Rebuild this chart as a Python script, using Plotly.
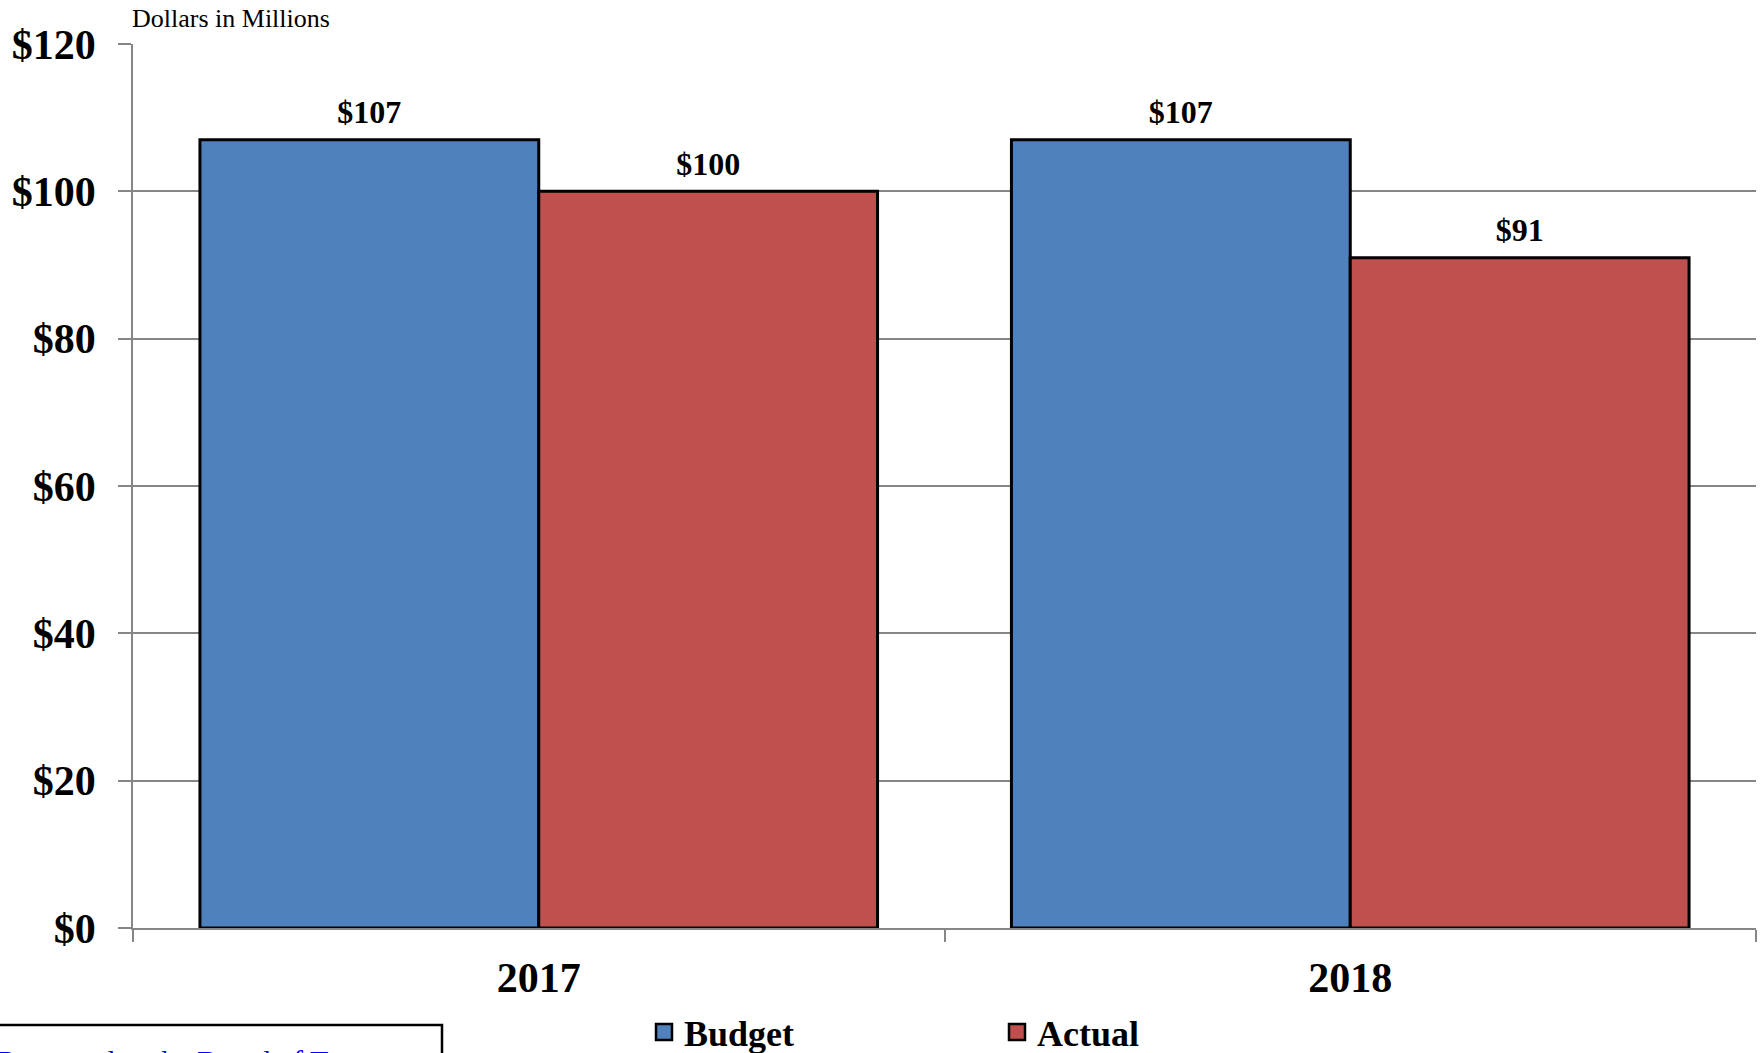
import plotly.graph_objects as go

years = ["2017", "2018"]
budget = [107, 107]
actual = [100, 91]
y_ticks = [0, 20, 40, 60, 80, 100, 120]
y_tick_labels = ["$0", "$20", "$40", "$60", "$80", "$100", "$120"]

FONT = "Liberation Serif"
BLUE, RED = "#4F81BD", "#C0504D"
GRID = "#868686"
W, H = 1764, 1053
ML, MR, MT, MB = 133, 8, 44, 125
PW = W - ML - MR
PH = H - MT - MB
GAP = 0.165

fig = go.Figure()
series = [("Budget", budget, BLUE), ("Actual", actual, RED)]
for name, vals, col in series:
    fig.add_trace(go.Bar(
        name=name, x=years, y=vals, offsetgroup=name, showlegend=False,
        marker=dict(color=col, line=dict(color="black", width=3)),
        hoverinfo="skip",
    ))
# value labels, grouped like the bars
for name, vals, col in series:
    fig.add_trace(go.Scatter(
        x=years, y=vals, offsetgroup=name, mode="markers+text", showlegend=False,
        text=[f"${v}" for v in vals], textposition="top center",
        textfont=dict(family=FONT, size=32, color="black", weight="bold"),
        marker=dict(size=12, opacity=0, color=col), cliponaxis=False,
        hoverinfo="skip",
    ))
# legend entries with square keys
for name, vals, col in series:
    fig.add_trace(go.Scatter(
        name=name, x=[None], y=[None], offsetgroup=name, mode="markers",
        marker=dict(symbol="square", size=20, color=col, line=dict(color="black", width=2.5)),
    ))

fig.update_layout(
    width=W, height=H,
    margin=dict(l=ML, r=MR, t=MT, b=MB, autoexpand=False),
    paper_bgcolor="white", plot_bgcolor="white",
    barmode="group", bargap=GAP, bargroupgap=0,
    scattermode="group", scattergap=GAP,
    font=dict(family=FONT, color="black"),
    showlegend=True,
    legend=dict(
        orientation="h", x=644 / W, xanchor="left", xref="container",
        y=1 - 1032 / H, yanchor="middle", yref="container",
        font=dict(family=FONT, size=36, color="black", weight="bold"),
        entrywidth=308, itemwidth=30, bgcolor="rgba(0,0,0,0)",
    ),
    xaxis=dict(
        type="category", tickson="boundaries", ticks="outside", ticklen=12,
        tickcolor=GRID, tickwidth=1.5, automargin=False,
        showline=True, linecolor=GRID, linewidth=1.5,
        tickfont=dict(family=FONT, size=42, color="black", weight="bold"),
        ticklabelstandoff=12,
    ),
    yaxis=dict(
        range=[0, 120], tickvals=y_ticks, ticktext=y_tick_labels,
        ticks="outside", ticklen=13, tickcolor=GRID, tickwidth=1.5,
        showline=True, linecolor=GRID, linewidth=1.5, automargin=False,
        showgrid=True, gridcolor=GRID, gridwidth=1.5,
        tickfont=dict(family=FONT, size=42, color="black", weight="bold"),
        ticklabelstandoff=14, zeroline=False,
    ),
)

fig.add_annotation(
    text="Dollars in Millions", xref="paper", yref="paper",
    x=0, y=1, xanchor="left", yanchor="middle", xshift=-3, yshift=26,
    showarrow=False, font=dict(family=FONT, size=26, color="black"),
)

# bottom-left framed note (cut by the page edge)
fig.add_shape(
    type="rect", xref="paper", yref="paper",
    x0=-(ML + 20) / PW, x1=(442 - ML) / PW,
    y0=-(H + 40 - MT - PH) / PH, y1=-(1025 - MT - PH) / PH,
    line=dict(color="black", width=2.5), fillcolor="rgba(0,0,0,0)", layer="above",
)
fig.add_annotation(
    text="Presented to the Board of Trustees", xref="paper", yref="paper",
    x=-ML / PW, y=-(1042 - MT - PH) / PH, xanchor="left", yanchor="top", xshift=-4,
    showarrow=False, font=dict(family=FONT, size=30, color="#0000FF"),
)

fig.write_html("out.html", post_script="document.body.style.margin='0';",
               config={"displayModeBar": False})
